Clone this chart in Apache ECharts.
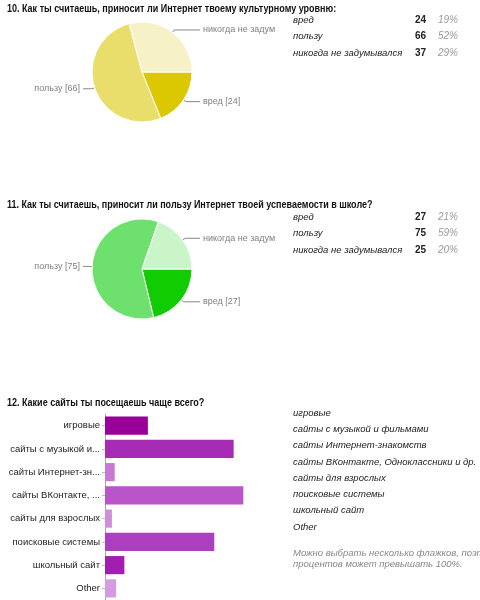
<!DOCTYPE html>
<html>
<head>
<meta charset="utf-8">
<script src="https://cdn.jsdelivr.net/npm/echarts@6/dist/echarts.min.js"></script>
<style>
html, body { margin: 0; padding: 0; background: #fff; }
#main { width: 480px; height: 600px; }
</style>
</head>
<body>
<div id="main"></div>
<script>
// data
var q1Title = '10. Как ты считаешь, приносит ли Интернет твоему культурному уровню:';
var q2Title = '11. Как ты считаешь, приносит ли пользу Интернет твоей успеваемости в школе?';
var q3Title = '12. Какие сайты ты посещаешь чаще всего?';
var answers = ['вред', 'пользу', 'никогда не задумывался'];
var q1Values = [24, 66, 37];
var q2Values = [27, 75, 25];
var sites = ['игровые', 'сайты с музыкой и фильмами', 'сайты Интернет-знакомств',
  'сайты ВКонтакте, Одноклассники и др.', 'сайты для взрослых', 'поисковые системы',
  'школьный сайт', 'Other'];
var siteValues = [31, 93, 7, 100, 5, 79, 14, 8];
var noteLines = ['Можно выбрать несколько флажков, поэтому сумма',
  'процентов может превышать 100%.'];

// colours
var q1Colors = ['#dcc800', '#e9dd6c', '#f6f1c6'];
var q2Colors = ['#11cc00', '#6ee06e', '#c9f5c9'];
var siteColors = ['#990099', '#a62bb5', '#c879d4', '#b955c8', '#cf8ddc', '#ac3fbf', '#a21eb0', '#d59ae0'];

var FONT = '"Liberation Sans", Arial, sans-serif';
var PIE_X = 142, PIE_R = 50;

var chart = echarts.init(document.getElementById('main'), null, { renderer: 'canvas' });

function pieSeries(values, colors, cy) {
  return {
    type: 'pie',
    center: [PIE_X, cy],
    radius: PIE_R,
    startAngle: 0,
    clockwise: true,
    animation: false,
    silent: true,
    data: answers.map(function (a, i) {
      return { name: a, value: values[i], itemStyle: { color: colors[i] } };
    }),
    itemStyle: { borderColor: '#fff', borderWidth: 1 },
    label: {
      color: '#808080',
      fontSize: 9,
      fontFamily: FONT,
      formatter: function (p) {
        // long names get cut like in the original
        return p.name.length > 16 ? p.name.slice(0, 16) : p.name + ' [' + p.value + ']';
      }
    },
    labelLine: { length: 3, length2: 15, smooth: false, lineStyle: { color: '#888', width: 1 } },
    labelLayout: function (p) {
      var pts = p.labelLinePoints;
      if (!pts) return {};
      var right = pts[0][0] > PIE_X;
      var endX = right ? PIE_X + 58 : PIE_X - 59;
      var np = [pts[0].slice(), pts[1].slice(), [endX, pts[1][1]]];
      return {
        x: right ? endX + 3 : endX - 3,
        y: pts[1][1],
        align: right ? 'left' : 'right',
        verticalAlign: 'middle',
        labelLinePoints: np
      };
    }
  };
}

function tableTexts(values, top) {
  var total = values.reduce(function (a, b) { return a + b; }, 0);
  var out = [];
  answers.forEach(function (a, i) {
    var y = top + i * 16.5;
    out.push({ type: 'text', style: { x: 293, y: y, text: a, fill: '#222', font: 'italic 9.5px ' + FONT, verticalAlign: 'middle' } });
    out.push({ type: 'text', style: { x: 426, y: y, text: String(values[i]), fill: '#222', font: 'bold 10px ' + FONT, align: 'right', verticalAlign: 'middle' } });
    out.push({ type: 'text', style: { x: 458, y: y, text: Math.round(values[i] / total * 100) + '%', fill: '#999', font: 'italic 10px ' + FONT, align: 'right', verticalAlign: 'middle' } });
  });
  return out;
}

function titleText(text, y) {
  return {
    type: 'text', x: 7, y: y, scaleX: 0.9, scaleY: 1,
    style: { x: 0, y: 0, text: text, fill: '#111', font: 'bold 10px ' + FONT, verticalAlign: 'middle' }
  };
}

var graphics = [titleText(q1Title, 9), titleText(q2Title, 205), titleText(q3Title, 403)];
graphics = graphics.concat(tableTexts(q1Values, 20), tableTexts(q2Values, 217));
sites.forEach(function (s, i) {
  graphics.push({ type: 'text', style: { x: 293, y: 413 + i * 16.3, text: s, fill: '#222', font: 'italic 9.5px ' + FONT, verticalAlign: 'middle' } });
});
noteLines.forEach(function (s, i) {
  graphics.push({ type: 'text', style: { x: 293, y: 553 + i * 11, text: s, fill: '#888', font: 'italic 9.5px ' + FONT, verticalAlign: 'middle' } });
});

var option = {
  backgroundColor: '#fff',
  animation: false,
  grid: { left: 105, top: 414, width: 166, height: 186 },
  xAxis: { type: 'value', min: 0, max: 120, show: false },
  yAxis: {
    type: 'category',
    data: sites,
    inverse: true,
    axisLine: { lineStyle: { color: '#aaa' } },
    axisTick: { show: true, alignWithLabel: true, length: 3, lineStyle: { color: '#bbb' } },
    axisLabel: {
      color: '#222',
      fontSize: 9.5,
      fontFamily: FONT,
      margin: 5,
      formatter: function (v) { return v.length > 18 ? v.slice(0, 17) + '...' : v; }
    }
  },
  series: [
    pieSeries(q1Values, q1Colors, 72),
    pieSeries(q2Values, q2Colors, 269),
    {
      type: 'bar',
      data: siteValues,
      barCategoryGap: '22%',
      silent: true,
      itemStyle: { color: function (p) { return siteColors[p.dataIndex]; } }
    }
  ],
  graphic: graphics
};

chart.setOption(option);
</script>
</body>
</html>
